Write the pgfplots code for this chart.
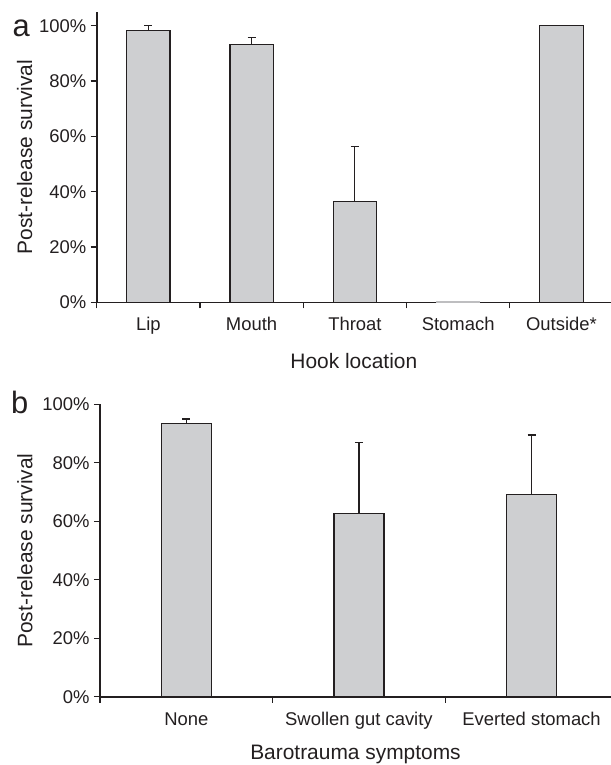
\documentclass[border=0pt]{standalone}
\usepackage{pgfplots}
\pgfplotsset{compat=1.18}
\usepackage{fontspec}
\setmainfont{Liberation Sans}
\definecolor{barfill}{RGB}{206,207,209}
\definecolor{ink}{RGB}{35,31,32}
\definecolor{faint}{RGB}{190,190,192}
\pgfplotsset{
  mystyle/.style={
    scale only axis,
    axis lines=left,
    axis line style={line width=1.6bp, ink, -},
    ymin=0,
    ytick={0,20,40,60,80,100},
    yticklabels={0\%,20\%,40\%,60\%,80\%,100\%},
    tick align=outside,
    major tick length=6bp,
    tick style={line width=1.3bp, ink},
    ticklabel style={font=\fontsize{18.5}{20}\selectfont, text=ink},
    yticklabel style={anchor=east, xshift=-1bp},
    xticklabels={},
    extra x tick style={major tick length=0bp},
    xticklabel style={anchor=base, yshift=-28.5bp},
    label style={font=\fontsize{21}{23}\selectfont, text=ink},
    ybar, bar shift=0pt,
    clip=false,
  },
  mybar/.style={fill=barfill, draw=ink, line width=1.2bp,
    error bars/.cd, y dir=plus, y explicit,
    error bar style={line width=1.2bp, ink},
    error mark options={line width=1.2bp, ink, mark size=4bp, rotate=90}},
}
\begin{document}
\begin{tikzpicture}
\path[use as bounding box] (0,0) rectangle (611bp,-765bp);
% Panel a
\begin{axis}[mystyle,
  at={(96.7bp,-302.3bp)}, anchor=south west,
  width=514.3bp, height=290.4bp,
  xmin=-0.5, xmax=4.48, ymax=105,
  bar width=0.42,
  xtick={-0.5,0.5,1.5,2.5,3.5},
  extra x ticks={0,1,2,3,4},
  extra x tick labels={Lip,Mouth,Throat,Stomach,Outside*},
  xlabel={Hook location},
  xlabel style={at={(axis description cs:0.5,-0.202)}, anchor=center},
  ylabel={Post-release survival},
  ylabel style={at={(axis description cs:-0.14,0.5)}, anchor=center},
]
\addplot[mybar] coordinates {
  (0,98.3) +- (0,1.7)
  (1,93.3) +- (0,2.4)
  (2,36.4) +- (0,19.9)
  (4,100.0) +- (0,0.2)
};
\addplot[fill=barfill, draw=faint, line width=1bp] coordinates {(3,0.3)};
\node[font=\fontsize{31}{33}\selectfont, text=ink, anchor=base] at (axis description cs:-0.147,0.915) {a};
\end{axis}
% Panel b
\begin{axis}[mystyle,
  at={(100bp,-696.7bp)}, anchor=south west,
  width=511bp, height=292.4bp,
  xmin=-0.5, xmax=2.46, ymax=100,
  bar width=0.29,
  xtick={-0.5,0.5,1.5},
  extra x ticks={0,1,2},
  extra x tick labels={None,Swollen gut cavity,Everted stomach},
  xlabel={Barotrauma symptoms},
  xlabel style={at={(axis description cs:0.5,-0.199)}, anchor=center},
  ylabel={Post-release survival},
  ylabel style={at={(axis description cs:-0.147,0.5)}, anchor=center},
]
\addplot[mybar] coordinates {
  (0,93.4) +- (0,1.6)
  (1,62.6) +- (0,24.3)
  (2,69.1) +- (0,20.4)
};
\node[font=\fontsize{31}{33}\selectfont, text=ink, anchor=base] at (axis description cs:-0.157,0.97) {b};
\end{axis}
\end{tikzpicture}
\end{document}
